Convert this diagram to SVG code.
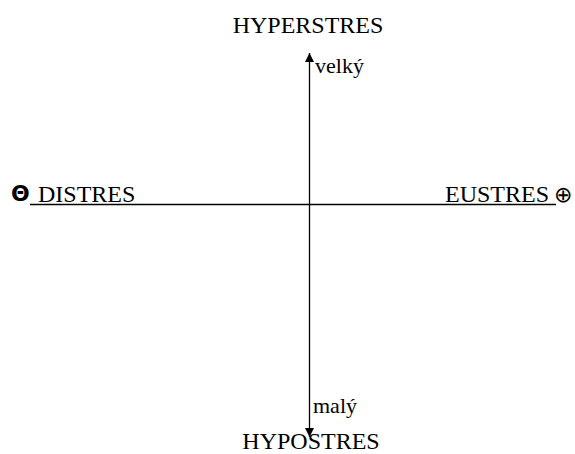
<svg xmlns="http://www.w3.org/2000/svg" width="575" height="454" viewBox="0 0 575 454">
<style>
.t{font-family:"Liberation Serif","Times New Roman",serif;font-size:24px;fill:#000}
.s{font-family:"Liberation Serif","Times New Roman",serif;font-size:22px;fill:#000}
.sym{font-family:"DejaVu Sans","Liberation Sans",sans-serif;font-size:22px;fill:#000}
.ax{stroke:#000;stroke-width:1.3;fill:none}
</style>
<defs>
<marker id="ah" viewBox="0 0 10 10" refX="10" refY="5" markerWidth="10" markerHeight="9" markerUnits="userSpaceOnUse" orient="auto">
<path d="M0,0 L10,5 L0,10 z" fill="#000"/>
</marker>
</defs>
<rect width="575" height="454" fill="#fff"/>
<g id="connectors">
<line class="ax" x1="30" y1="204.5" x2="556" y2="204.5"/>
<line class="ax" x1="309.5" y1="204.5" x2="309.5" y2="53" marker-end="url(#ah)"/>
<line class="ax" x1="309.5" y1="204.5" x2="309.5" y2="437" marker-end="url(#ah)"/>
</g>
<g id="hyperstres"><text class="t" x="308" y="33" text-anchor="middle">HYPERSTRES</text></g>
<g id="velky"><text class="s" x="315" y="73">velký</text></g>
<g id="distres"><text class="sym" x="11" y="201" font-weight="bold">Θ</text><text class="t" x="38" y="202">DISTRES</text></g>
<g id="eustres"><text class="t" x="445" y="202">EUSTRES</text><text class="sym" x="554" y="202" font-size="27">⊕</text></g>
<g id="maly"><text class="s" x="313" y="413">malý</text></g>
<g id="hypostres"><text class="t" x="311" y="449" text-anchor="middle">HYPOSTRES</text></g>
</svg>
